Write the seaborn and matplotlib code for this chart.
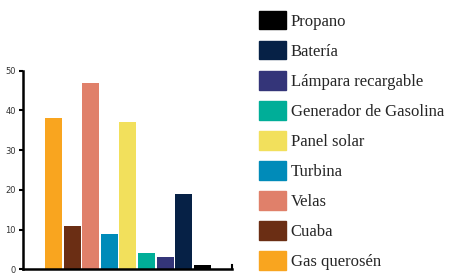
import matplotlib
matplotlib.use("Agg")
import matplotlib.pyplot as plt
import seaborn as sns
import pandas as pd

# Data
categorias = ["Gas querosén", "Cuaba", "Velas", "Turbina", "Panel solar",
              "Generador de Gasolina", "Lámpara recargable", "Batería", "Propano"]
valores = [38, 11, 47, 9, 37, 4, 3, 19, 1]
colores = ["#F9A51F", "#6B2E14", "#E0806A", "#008BB9", "#F2E05C",
           "#00AE98", "#343579", "#062146", "#000000"]
y_ticks = [0, 10, 20, 30, 40, 50]

df = pd.DataFrame({"fuente": categorias, "valor": valores})

sns.set_style("white")
fig = plt.figure(figsize=(4.54, 2.73), dpi=100)
ax = fig.add_axes([23 / 454, 3.7 / 273, 209 / 454, 198.6 / 273])

sns.barplot(data=df, x="fuente", y="valor", hue="fuente",
            palette=dict(zip(categorias, colores)), dodge=False,
            width=0.91, saturation=1, legend=False, linewidth=0, ax=ax)

ax.set_xlim(-1.64, 9.6)
ax.set_ylim(0, 50)
ax.set_yticks(y_ticks)
ax.set_xticks([])
ax.set_xlabel("")
ax.set_ylabel("")
ax.tick_params(axis="y", length=3, width=1.5, color="black", labelsize=6,
               labelcolor="#333333", pad=2, left=True)

ax.spines["top"].set_visible(False)
for s in ["left", "bottom"]:
    ax.spines[s].set_linewidth(1.8)
    ax.spines[s].set_color("black")
ax.spines["right"].set_visible(True)
ax.spines["right"].set_bounds(0, 1.2)
ax.spines["right"].set_linewidth(1.5)
ax.spines["right"].set_color("black")

# Legend (reversed order, as in the original)
handles = [plt.Rectangle((0, 0), 1, 1, color=c) for c in colores]
leg = fig.legend(handles[::-1], categorias[::-1],
                 loc="upper left", bbox_to_anchor=(257 / 454, 1 - 9 / 273),
                 frameon=False, prop={"family": "Liberation Serif", "size": 12},
                 handlelength=1.62, handleheight=1.35, handletextpad=0.3,
                 labelspacing=0.67, borderaxespad=0, borderpad=0.1)

fig.savefig("out.png", dpi=100)
